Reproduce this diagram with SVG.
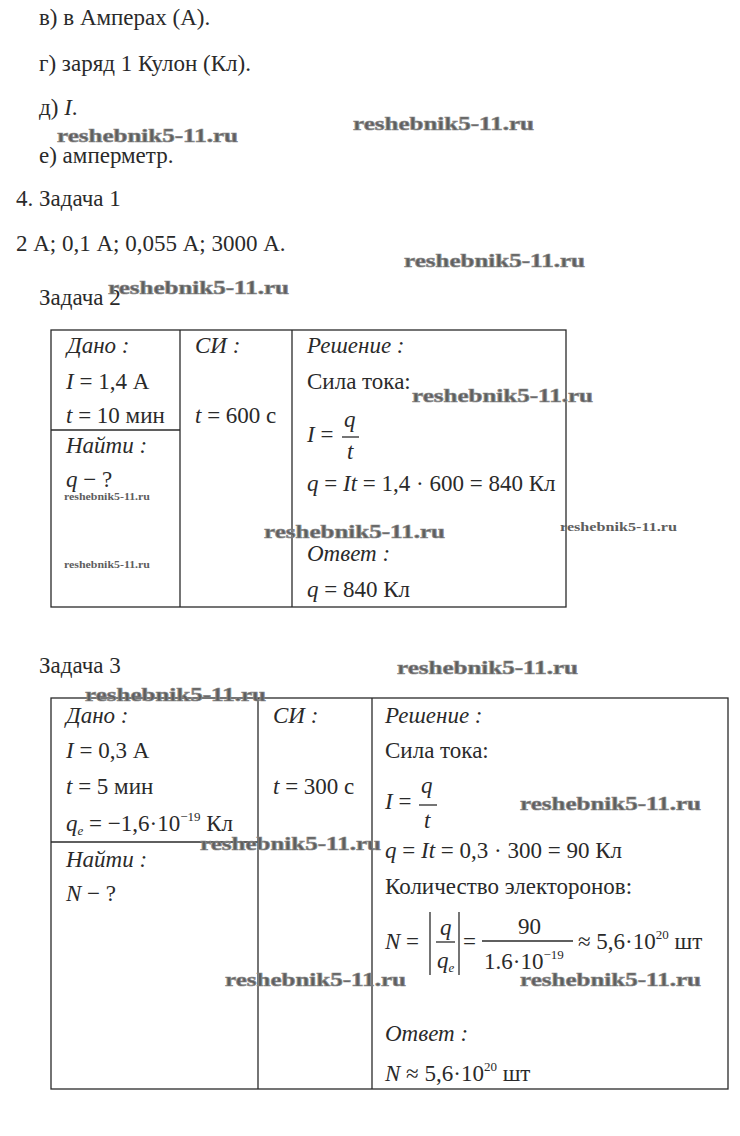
<svg xmlns="http://www.w3.org/2000/svg" width="740" height="1136" viewBox="0 0 740 1136">
<style>
.t{font-family:"Liberation Serif","Times New Roman",serif;font-size:23px;fill:#2a2a2a}
.i{font-style:italic}
.s{font-size:13px}
.w{font-family:"Liberation Serif","DejaVu Serif",serif;font-weight:bold;font-size:19px;fill:#5e5e5e;stroke:#8a8a8a;stroke-width:0.7}
.ws{font-family:"Liberation Serif","DejaVu Serif",serif;font-weight:bold;font-size:10px;fill:#5e5e5e}
.ln{stroke:#2a2a2a;stroke-width:1.3;fill:none}
</style>
<rect width="740" height="1136" fill="#fff"/>

<g id="text-top">
<text class="t" x="39" y="25">в) в Амперах (А).</text>
<text class="t" x="39" y="71">г) заряд 1 Кулон (Кл).</text>
<text class="t" x="39" y="115">д) <tspan class="i">I</tspan>.</text>
<text class="t" x="39" y="163">е) амперметр.</text>
<text class="t" x="16" y="206">4. Задача 1</text>
<text class="t" x="16" y="251">2 А; 0,1 А; 0,055 А; 3000 А.</text>
<text class="t" x="39" y="305">Задача 2</text>
<text class="t" x="39" y="673">Задача 3</text>
</g>

<g id="table2">
<rect class="ln" x="51" y="330" width="515" height="277"/>
<line class="ln" x1="180" y1="330" x2="180" y2="607"/>
<line class="ln" x1="292" y1="330" x2="292" y2="607"/>
<line class="ln" x1="51" y1="430" x2="180" y2="430"/>
<text class="t i" x="67" y="353">Дано :</text>
<text class="t" x="66" y="389"><tspan class="i">I</tspan> = 1,4 А</text>
<text class="t" x="66" y="423"><tspan class="i">t</tspan> = 10 мин</text>
<text class="t i" x="66" y="453">Найти :</text>
<text class="t" x="66" y="487"><tspan class="i">q</tspan> − ?</text>
<text class="t i" x="195" y="353">СИ :</text>
<text class="t" x="195" y="423"><tspan class="i">t</tspan> = 600 с</text>
<text class="t i" x="307" y="353">Решение :</text>
<text class="t" x="307" y="389">Сила тока:</text>
<text class="t" x="307" y="442"><tspan class="i">I</tspan> =</text>
<text class="t i" x="344" y="427">q</text>
<line class="ln" x1="342" y1="437" x2="359" y2="437"/>
<text class="t i" x="347" y="459">t</text>
<text class="t" x="307" y="491"><tspan class="i">q</tspan> = <tspan class="i">It</tspan> = 1,4 · 600 = 840 Кл</text>
<text class="t i" x="307" y="561">Ответ :</text>
<text class="t" x="307" y="597"><tspan class="i">q</tspan> = 840 Кл</text>
</g>

<g id="table3">
<rect class="ln" x="51" y="698" width="677" height="391"/>
<line class="ln" x1="258" y1="698" x2="258" y2="1089"/>
<line class="ln" x1="372" y1="698" x2="372" y2="1089"/>
<line class="ln" x1="51" y1="842" x2="258" y2="842"/>
<text class="t i" x="66" y="723">Дано :</text>
<text class="t" x="66" y="758"><tspan class="i">I</tspan> = 0,3 А</text>
<text class="t" x="66" y="794"><tspan class="i">t</tspan> = 5 мин</text>
<text class="t" x="66" y="831"><tspan class="i">q</tspan><tspan class="i s" dy="4">e</tspan><tspan dy="-4"> = −1,6·10</tspan><tspan class="s" dy="-10">−19</tspan><tspan dy="10"> Кл</tspan></text>
<text class="t i" x="66" y="867">Найти :</text>
<text class="t" x="66" y="901"><tspan class="i">N</tspan> − ?</text>
<text class="t i" x="273" y="723">СИ :</text>
<text class="t" x="273" y="794"><tspan class="i">t</tspan> = 300 с</text>
<text class="t i" x="385" y="723">Решение :</text>
<text class="t" x="385" y="758">Сила тока:</text>
<text class="t" x="385" y="809"><tspan class="i">I</tspan> =</text>
<text class="t i" x="421" y="793">q</text>
<line class="ln" x1="419" y1="805" x2="437" y2="805"/>
<text class="t i" x="424" y="828">t</text>
<text class="t" x="385" y="858"><tspan class="i">q</tspan> = <tspan class="i">It</tspan> = 0,3 · 300 = 90 Кл</text>
<text class="t" x="385" y="894">Количество электоронов:</text>
<text class="t" x="385" y="949"><tspan class="i">N</tspan> =</text>
<line class="ln" x1="430" y1="912" x2="430" y2="975"/>
<line class="ln" x1="459" y1="912" x2="459" y2="975"/>
<text class="t i" x="440" y="935">q</text>
<line class="ln" x1="436" y1="942" x2="455" y2="942"/>
<text class="t" x="437" y="968"><tspan class="i">q</tspan><tspan class="i s" dy="4">e</tspan></text>
<text class="t" x="463" y="949">=</text>
<text class="t" x="518" y="934">90</text>
<line class="ln" x1="482" y1="941" x2="573" y2="941"/>
<text class="t" x="484" y="969">1.6·10<tspan class="s" dy="-10">−19</tspan></text>
<text class="t" x="578" y="949">≈ 5,6·10<tspan class="s" dy="-10">20</tspan><tspan dy="10"> шт</tspan></text>
<text class="t i" x="385" y="1041">Ответ :</text>
<text class="t" x="385" y="1081"><tspan class="i">N</tspan> ≈ 5,6·10<tspan class="s" dy="-10">20</tspan><tspan dy="10"> шт</tspan></text>
</g>

<g id="watermarks">
<text class="w" x="57" y="142" textLength="181" lengthAdjust="spacingAndGlyphs">reshebnik5-11.ru</text>
<text class="w" x="353" y="130" textLength="181" lengthAdjust="spacingAndGlyphs">reshebnik5-11.ru</text>
<text class="w" x="404" y="267" textLength="181" lengthAdjust="spacingAndGlyphs">reshebnik5-11.ru</text>
<text class="w" x="108" y="294" textLength="181" lengthAdjust="spacingAndGlyphs">reshebnik5-11.ru</text>
<text class="w" x="412" y="402" textLength="181" lengthAdjust="spacingAndGlyphs">reshebnik5-11.ru</text>
<text class="ws" x="64" y="500" textLength="86" lengthAdjust="spacingAndGlyphs">reshebnik5-11.ru</text>
<text class="ws" x="64" y="568" textLength="86" lengthAdjust="spacingAndGlyphs">reshebnik5-11.ru</text>
<text class="w" x="264" y="538" textLength="181" lengthAdjust="spacingAndGlyphs">reshebnik5-11.ru</text>
<text class="ws" x="560" y="531" style="font-size:12px" textLength="117" lengthAdjust="spacingAndGlyphs">reshebnik5-11.ru</text>
<text class="w" x="397" y="674" textLength="181" lengthAdjust="spacingAndGlyphs">reshebnik5-11.ru</text>
<text class="w" x="85" y="701" textLength="181" lengthAdjust="spacingAndGlyphs">reshebnik5-11.ru</text>
<text class="w" x="520" y="810" textLength="181" lengthAdjust="spacingAndGlyphs">reshebnik5-11.ru</text>
<text class="w" x="200" y="850" textLength="181" lengthAdjust="spacingAndGlyphs">reshebnik5-11.ru</text>
<text class="w" x="225" y="986" textLength="181" lengthAdjust="spacingAndGlyphs">reshebnik5-11.ru</text>
<text class="w" x="520" y="986" textLength="181" lengthAdjust="spacingAndGlyphs">reshebnik5-11.ru</text>
</g>
</svg>
